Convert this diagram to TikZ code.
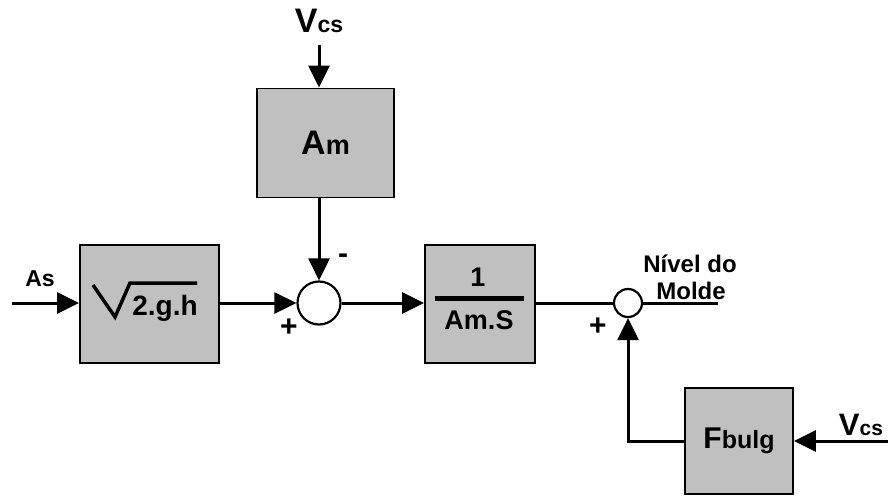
\documentclass[tikz,border=0pt]{standalone}
\usepackage{fontspec}
\setmainfont{Liberation Sans}
\usetikzlibrary{arrows.meta,positioning,calc}
\definecolor{blockgray}{RGB}{192,192,192}
\newcommand{\fsz}[1]{\fontsize{#1}{#1}\selectfont\bfseries}

\begin{document}
\begin{tikzpicture}[x=1pt,y=-1pt,
    block/.style={draw, line width=1.8pt, fill=blockgray, inner sep=0pt},
    summer/.style={draw, circle, line width=2.2pt, fill=white, inner sep=0pt},
    sig/.style={line width=3pt},
    arr/.style={sig, -{Triangle[length=22pt,width=21pt]}},
    txt/.style={inner sep=0pt, font=\fsz{23}}]
    \useasboundingbox (0,0) rectangle (888,497);

    % Blocks
    \node[block, minimum width=137pt, minimum height=109pt] (am) at (325.5,143) {\fsz{34}A\fsz{27}m};
    \node[block, minimum width=139pt, minimum height=118pt] (sqrtbox) at (149.5,304) {};
    \node[txt, font=\fsz{28}] (sqrtarg) at (165,308) {2.g.h};
    \node[block, minimum width=110pt, minimum height=118pt] (frac) at (480,304) {};
    \node[txt, font=\fsz{27}] (num) at (478,277) {1};
    \node[txt, font=\fsz{27}] (den) at (479,320) {Am.S};
    \node[block, minimum width=108pt, minimum height=106pt] (fbulg) at (739,441) {\fsz{30}F\fsz{25}bulg};

    % Summing points
    \node[summer, minimum size=43pt] (sum1) at (319,303) {};
    \node[summer, minimum size=28pt] (sum2) at (628,303) {};

    % Free ends
    \coordinate (asin) at (12,303);
    \coordinate (vcstop) at (319,45);
    \coordinate (vcsright) at (888,441);
    \coordinate (nivel) at (718,303);

    % Labels
    \node[txt, anchor=base] (aslbl) at (40,286) {As};
    \node[txt, anchor=base] (vcslbl1) at (319,33) {\fsz{34}V\fsz{23}cs};
    \node[txt, anchor=base] (vcslbl2) at (861,435) {\fsz{31}V\fsz{21}cs};
    \node[txt, font=\fsz{30}] (plus1) at (289,328) {+};
    \node[txt, font=\fsz{30}] (minus1) at (343,259) {-};
    \node[txt, font=\fsz{30}] (plus2) at (598,327) {+};
    \node[txt, font=\fsz{24}, anchor=base] (outlbl1) at (690,272) {Nível do};
    \node[txt, font=\fsz{24}, anchor=base] (outlbl2) at (691,299) {Molde};

    % Radical and fraction bar
    \draw[line width=3.5pt, line join=miter] ([shift={(-56.5,-19)}]sqrtbox.center) -- ++(22,32) -- ++(15,-34) -- ++(67,0);
    \draw[line width=5pt] ([shift={(-45,-6)}]frac.center) -- ++(89,0);

    % Connections
    \draw[arr] (vcstop) -- (vcstop |- am.north);
    \draw[arr] (am.south -| sum1) -- (sum1.north);
    \draw[arr] (asin) -- (asin -| sqrtbox.west);
    \draw[arr] (sqrtbox.east |- sum1) -- (sum1.west);
    \draw[arr] (sum1.east) -- (sum1 -| frac.west);
    \draw[sig] (frac.east |- sum2) -- (sum2.west);
    \draw[sig] (sum2.east) -- (nivel);
    \draw[arr] (vcsright) -- (vcsright -| fbulg.east);
    \draw[arr] (fbulg.west) -| (sum2.south);
\end{tikzpicture}
\end{document}
